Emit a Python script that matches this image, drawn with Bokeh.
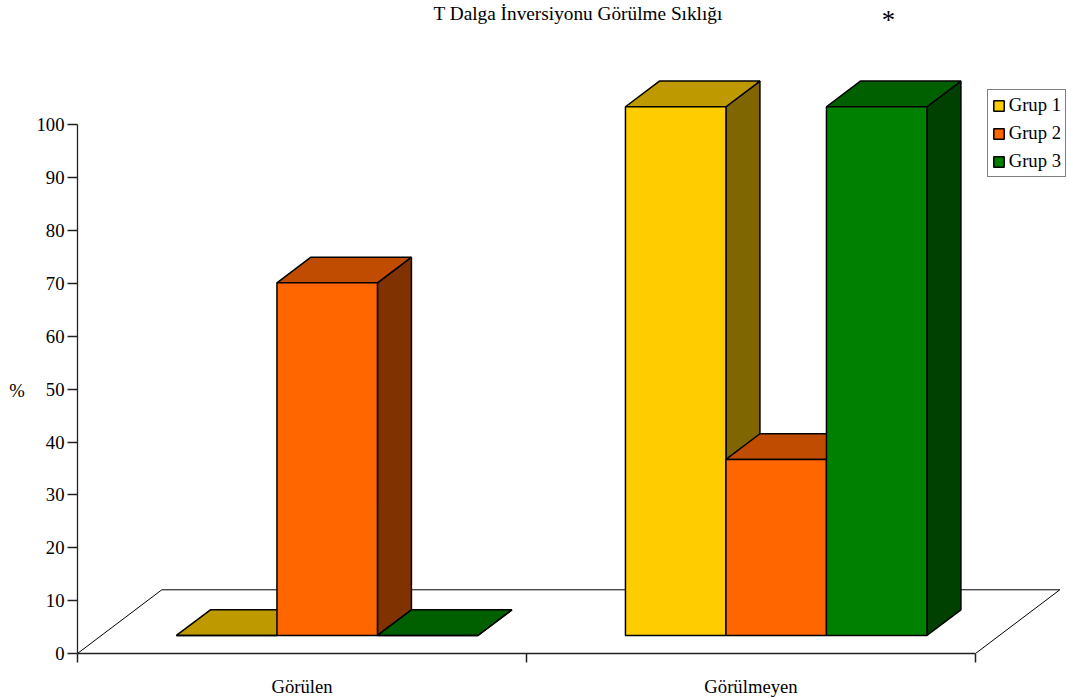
from bokeh.plotting import figure
from bokeh.models import Range1d, FixedTicker, Legend, LegendItem, Label
from bokeh.embed import file_html
from bokeh.resources import INLINE

# ---- data -------------------------------------------------------------
CATEGORIES = ["Görülen", "Görülmeyen"]
GROUPS = ["Grup 1", "Grup 2", "Grup 3"]
GRUP_1 = [0, 100]
GRUP_2 = [66.7, 33.3]
GRUP_3 = [0, 100]
SERIES = [GRUP_1, GRUP_2, GRUP_3]
Y_TICKS = [0, 10, 20, 30, 40, 50, 60, 70, 80, 90, 100]
TITLE = "T Dalga İnversiyonu Görülme Sıklığı"

# ---- styling ----------------------------------------------------------
FRONT_COLORS = ["#FFCC00", "#FF6600", "#008000"]
TOP_COLORS = ["#BF9900", "#BF4C00", "#006000"]
SIDE_COLORS = ["#806600", "#803300", "#004000"]
FONT = "Liberation Serif"
FONT_SIZE = "14pt"

W, H = 1067, 698
LEFT, BOTTOM, TOP = 77, 45, 40
PX_PER_CAT = 449.0      # screen pixels per category slot
PX_PER_PCT = 5.287      # screen pixels per percent
frame_w = W - LEFT
frame_h = H - BOTTOM - TOP

# oblique depth of the floor, in data units
DEPTH_X = 84.3 / PX_PER_CAT
DEPTH_Y = 63.7 / PX_PER_PCT
F0, F1 = 0.283, 0.686   # bar front / back position as a fraction of floor depth
BAR_W = 100.5 / PX_PER_CAT

p = figure(frame_width=frame_w, frame_height=frame_h,
           x_range=Range1d(0, frame_w / PX_PER_CAT),
           y_range=Range1d(0, frame_h / PX_PER_PCT),
           output_backend="svg", toolbar_location=None,
           min_border_left=LEFT, min_border_right=0,
           min_border_top=TOP, min_border_bottom=BOTTOM)
p.grid.visible = False
p.outline_line_color = None
p.background_fill_color = "white"
p.border_fill_color = "white"

# ---- floor ------------------------------------------------------------
n_cat = len(CATEGORIES)
p.patch([0, n_cat, n_cat + DEPTH_X, DEPTH_X], [0, 0, DEPTH_Y, DEPTH_Y],
        fill_color="white", line_color="black", line_width=1)

# ---- 3D bars ----------------------------------------------------------
dx = (F1 - F0) * DEPTH_X
dy = (F1 - F0) * DEPTH_Y
legend_items = []
for gi, (name, vals) in enumerate(zip(GROUPS, SERIES)):
    fx, fy, sx, sy, tx, ty = [], [], [], [], [], []
    for ci, v in enumerate(vals):
        center = ci + 0.5 + F0 * DEPTH_X + 0.003
        xl = center + (gi - 1.5) * BAR_W
        xr = xl + BAR_W
        yb = F0 * DEPTH_Y
        yt = yb + v
        fx.append([xl, xr, xr, xl]); fy.append([yb, yb, yt, yt])
        tx.append([xl, xr, xr + dx, xl + dx]); ty.append([yt, yt, yt + dy, yt + dy])
        sx.append([xr, xr + dx, xr + dx, xr]); sy.append([yb, yb + dy, yt + dy, yt])
    p.patches(sx, sy, fill_color=SIDE_COLORS[gi], line_color="black", line_width=1.5)
    p.patches(tx, ty, fill_color=TOP_COLORS[gi], line_color="black", line_width=1.5)
    fr = p.patches(fx, fy, fill_color=FRONT_COLORS[gi], line_color="black", line_width=1.5)
    legend_items.append(LegendItem(label=name, renderers=[fr]))

# ---- axes -------------------------------------------------------------
ya = p.yaxis[0]
ya.ticker = FixedTicker(ticks=Y_TICKS, minor_ticks=[])
ya.bounds = (0, 100)
ya.major_tick_out = 10
ya.major_tick_in = 0
ya.minor_tick_out = 0
ya.major_label_standoff = 3
ya.axis_line_color = "#222222"
ya.axis_line_width = 1.3
ya.major_tick_line_color = "#222222"
ya.major_tick_line_width = 1.3
ya.major_label_text_font = FONT
ya.major_label_text_font_size = FONT_SIZE
ya.major_label_text_color = "black"

xa = p.xaxis[0]
centers = [i + 0.5 for i in range(n_cat)]
xa.ticker = FixedTicker(ticks=centers, minor_ticks=list(range(n_cat + 1)))
xa.bounds = (0, n_cat)
xa.major_label_overrides = {c: lab for c, lab in zip(centers, CATEGORIES)}
xa.major_tick_out = 0
xa.major_tick_in = 0
xa.minor_tick_out = 9
xa.minor_tick_in = 0
xa.major_label_standoff = 13
xa.axis_line_color = "#222222"
xa.axis_line_width = 1.5
xa.minor_tick_line_color = "#222222"
xa.minor_tick_line_width = 1.5
xa.major_label_text_font = FONT
xa.major_label_text_font_size = FONT_SIZE
xa.major_label_text_color = "black"

# ---- title and extra labels -------------------------------------------
p.add_layout(Label(x=356, x_units="screen", y=27.4, y_units="screen", text=TITLE,
                   text_font=FONT, text_font_size="19.3px", text_color="black",
                   text_baseline="alphabetic", text_align="left"), "above")
p.add_layout(Label(x=-8.2, x_units="screen", y=49.7, text="%",
                   text_font=FONT, text_font_size=FONT_SIZE, text_color="black",
                   text_baseline="middle", text_align="left"), "left")
p.add_layout(Label(x=884, x_units="screen", y=(frame_h + TOP - 19) / PX_PER_PCT, text="*",
                   text_font=FONT, text_font_size="20pt", text_color="black",
                   text_baseline="middle", text_align="center"), "left")

# ---- legend -----------------------------------------------------------
legend = Legend(items=legend_items, location=(909.7, frame_h + TOP - 177),
                border_line_color="black", border_line_width=1,
                background_fill_color="white", background_fill_alpha=1,
                label_text_font=FONT, label_text_font_size=FONT_SIZE,
                label_text_color="black",
                glyph_width=13, glyph_height=13, label_height=20,
                spacing=6, padding=4, label_standoff=4, margin=0)
p.add_layout(legend)

open("out.html", "w").write(file_html(p, INLINE))
